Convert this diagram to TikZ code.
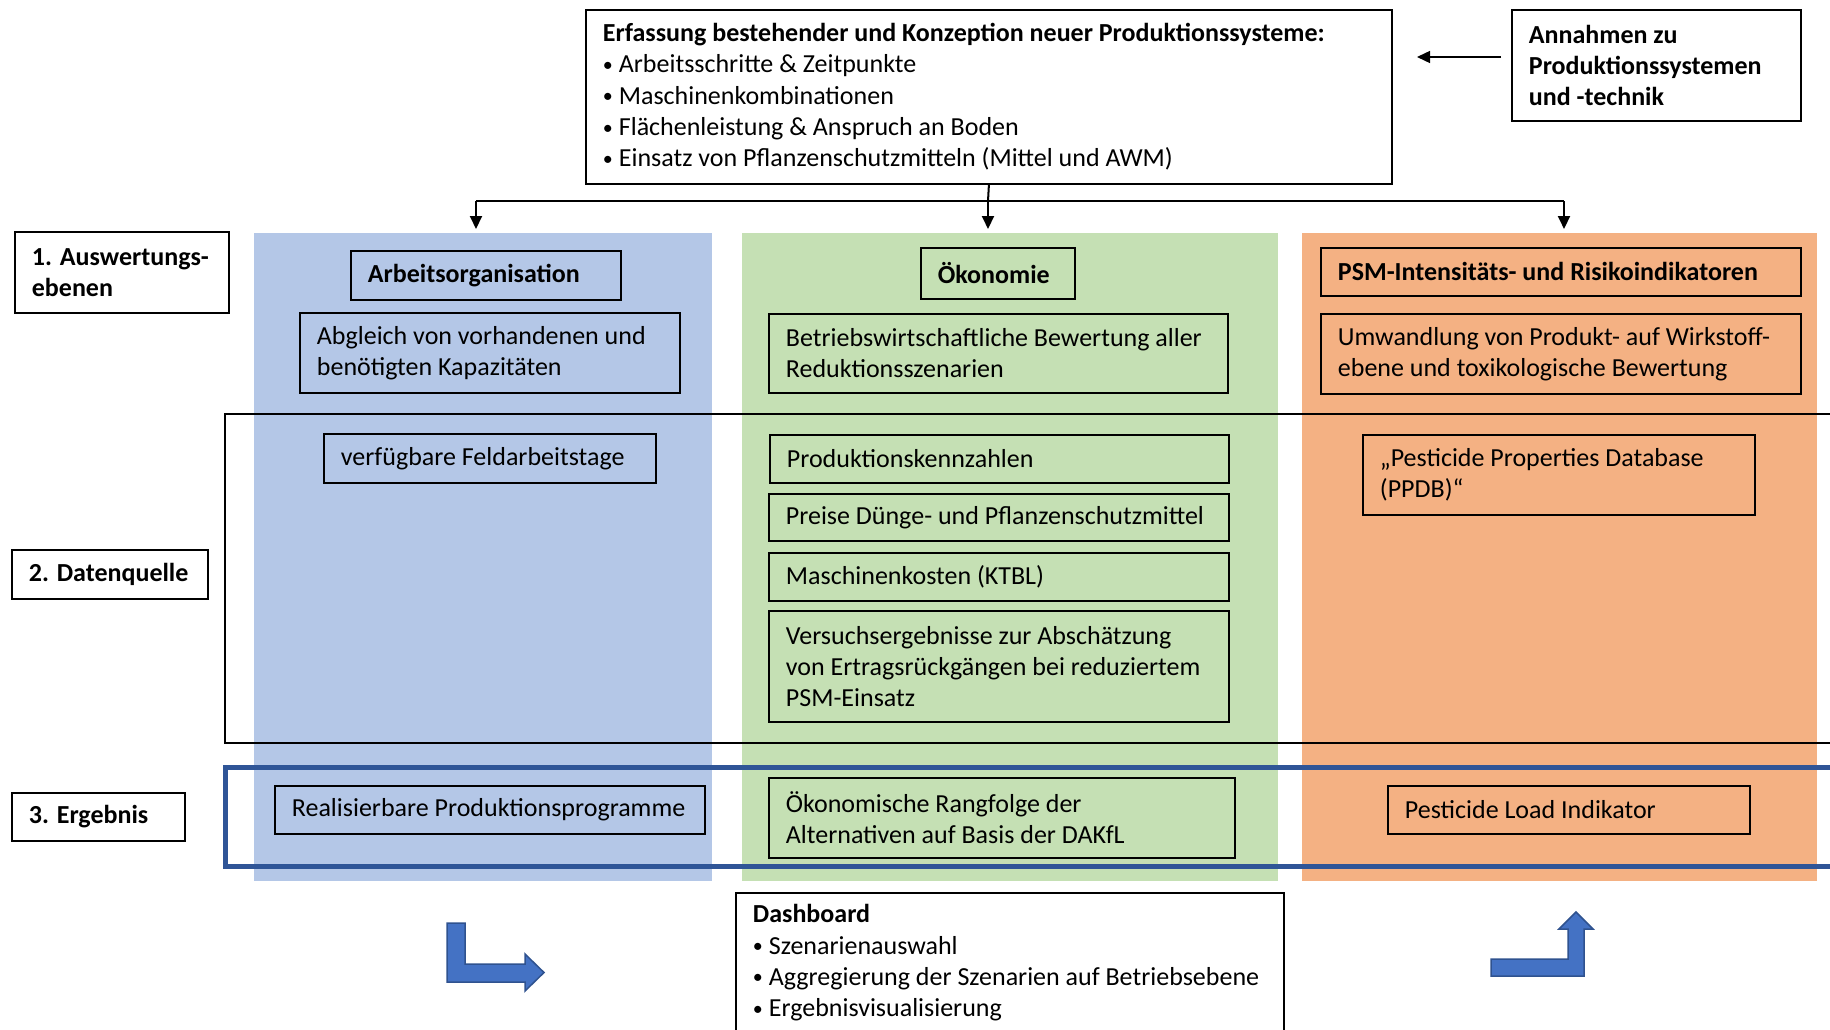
\documentclass[tikz,border=0pt]{standalone}
\usepackage{fontspec}
\setmainfont{Carlito}
\usetikzlibrary{arrows.meta}
\definecolor{colblue}{HTML}{B4C7E7}
\definecolor{colgreen}{HTML}{C5E0B4}
\definecolor{colorange}{HTML}{F4B183}
\definecolor{resblue}{HTML}{2F5597}
\definecolor{arrfill}{HTML}{4472C4}
\definecolor{arrline}{HTML}{2F528F}
\newcommand{\bul}{{\fontsize{20}{20}\selectfont\raisebox{1.5pt}{\textbullet}}\hspace{6pt}}
\begin{document}
\begin{tikzpicture}[x=1pt,y=-1pt,
  every node/.style={font=\fontsize{26}{31.3}\selectfont},
  box/.style={draw, line width=1.8pt, inner xsep=17pt, inner ysep=0pt, anchor=north west, align=flush left},
  colbg/.style={anchor=north west, inner sep=0pt, draw=none},
  conn/.style={line width=2pt},
  tip/.style={-{Triangle[width=12pt,length=13pt]}},
  bent/.style={fill=arrfill, draw=arrline, line width=1.5pt, line join=miter}
]
\useasboundingbox (0,0) rectangle (1830,1030);
\clip (0,0) rectangle (1830,1030);
\fill[white] (0,0) rectangle (1830,1030);

% columns
\node[colbg, fill=colblue, minimum width=458pt, minimum height=648pt] (colA) at (254,233) {};
\node[colbg, fill=colgreen, minimum width=536pt, minimum height=648pt] (colB) at (742,233) {};
\node[colbg, fill=colorange, minimum width=515pt, minimum height=648pt] (colC) at (1302,233) {};

% level frames
\draw[line width=2.5pt] (225,414) rectangle (1845,743);
\draw[line width=5pt, color=resblue] (225,767) rectangle (1845,866);

% top boxes
\node[box, minimum width=806pt, minimum height=174pt, text width=772pt] (top) at (585,9)
  {\textbf{Erfassung bestehender und Konzeption neuer Produktionssysteme:}\\
   \bul Arbeitsschritte \& Zeitpunkte\\
   \bul Maschinenkombinationen\\
   \bul Flächenleistung \& Anspruch an Boden\\
   \bul Einsatz von Pflanzenschutzmitteln (Mittel und AWM)};
\node[box, minimum width=289pt, minimum height=111pt, text width=255pt] (ann) at (1511,9)
  {\textbf{Annahmen zu}\\\textbf{Produktionssystemen}\\\textbf{und -technik}};

% level labels
\node[box, minimum width=214pt, minimum height=81pt, text width=180pt] (lab1) at (14,231)
  {\textbf{1. Auswertungs-}\\\textbf{ebenen}};
\node[box, minimum width=196pt, minimum height=49pt, text width=162pt] (lab2) at (11,549)
  {\textbf{2. Datenquelle}};
\node[box, minimum width=173pt, minimum height=48pt, text width=139pt] (lab3) at (11,792)
  {\textbf{3. Ergebnis}};

% blue column
\node[box, minimum width=270pt, minimum height=49pt, text width=236pt] (arb) at (350,250)
  {\textbf{Arbeitsorganisation}};
\node[box, minimum width=380pt, minimum height=80pt, text width=346pt] (abg) at (299,312)
  {Abgleich von vorhandenen und\\benötigten Kapazitäten};
\node[box, minimum width=332pt, minimum height=49pt, text width=298pt] (feld) at (323,433)
  {verfügbare Feldarbeitstage};
\node[box, minimum width=430pt, minimum height=48pt, text width=396pt] (real) at (274,785)
  {Realisierbare Produktionsprogramme};

% green column
\node[box, minimum width=154pt, minimum height=51pt, text width=120pt] (oek) at (920,247)
  {\textbf{Ökonomie}};
\node[box, minimum width=459pt, minimum height=79pt, text width=425pt] (bwl) at (768,313)
  {Betriebswirtschaftliche Bewertung aller\\Reduktionsszenarien};
\node[box, minimum width=459pt, minimum height=48pt, text width=425pt] (pkz) at (769,434)
  {Produktionskennzahlen};
\node[box, minimum width=460pt, minimum height=47pt, text width=426pt] (preis) at (768,493)
  {Preise Dünge- und Pflanzenschutzmittel};
\node[box, minimum width=460pt, minimum height=48pt, text width=426pt] (masch) at (768,552)
  {Maschinenkosten (KTBL)};
\node[box, minimum width=460pt, minimum height=111pt, text width=426pt] (vers) at (768,610)
  {Versuchsergebnisse zur Abschätzung\\von Ertragsrückgängen bei reduziertem\\PSM-Einsatz};
\node[box, minimum width=466pt, minimum height=80pt, text width=432pt] (rang) at (768,777)
  {Ökonomische Rangfolge der\\Alternativen auf Basis der DAKfL};

% orange column
\node[box, minimum width=480pt, minimum height=48pt, text width=446pt] (psm) at (1320,247)
  {\textbf{PSM-Intensitäts- und Risikoindikatoren}};
\node[box, minimum width=480pt, minimum height=80pt, text width=446pt] (umw) at (1320,313)
  {Umwandlung von Produkt- auf Wirkstoff-\\ebene und toxikologische Bewertung};
\node[box, minimum width=392pt, minimum height=80pt, text width=358pt] (ppdb) at (1362,434)
  {„Pesticide Properties Database\\(PPDB)“};
\node[box, minimum width=362pt, minimum height=48pt, text width=328pt] (pli) at (1387,785)
  {Pesticide Load Indikator};

% dashboard
\node[box, minimum width=548pt, minimum height=140pt, text width=514pt] (dash) at (735,892)
  {\textbf{Dashboard}\\
   \bul Szenarienauswahl\\
   \bul Aggregierung der Szenarien auf Betriebsebene\\
   \bul Ergebnisvisualisierung};

% connectors
\coordinate (hub) at (988,201);
\coordinate (brL) at (476,201);
\coordinate (brR) at (1564,201);
\coordinate (eL) at (476,229);
\coordinate (eM) at (988,229);
\coordinate (eR) at (1564,229);
\draw[conn] (top.south) -- (hub);
\draw[conn] (brL) -- (brR);
\draw[conn, tip] (brL) -- (eL);
\draw[conn, tip] (hub) -- (eM);
\draw[conn, tip] (brR) -- (eR);

\coordinate (annA) at (1501,57);
\coordinate (annB) at (1417,57);
\draw[line width=1.5pt, tip] (annA) -- (annB);

% bent arrows towards dashboard
\draw[bent] (447,923) -- (465,923) -- (465,964) -- (525,964) -- (525,954) -- (544,972.5)
  -- (525,991) -- (525,982) -- (447,982) -- cycle;
\draw[bent] (1491,959) -- (1568,959) -- (1568,929) -- (1559,929) -- (1576,912) -- (1593,929)
  -- (1584,929) -- (1584,976) -- (1491,976) -- cycle;
\end{tikzpicture}
\end{document}
